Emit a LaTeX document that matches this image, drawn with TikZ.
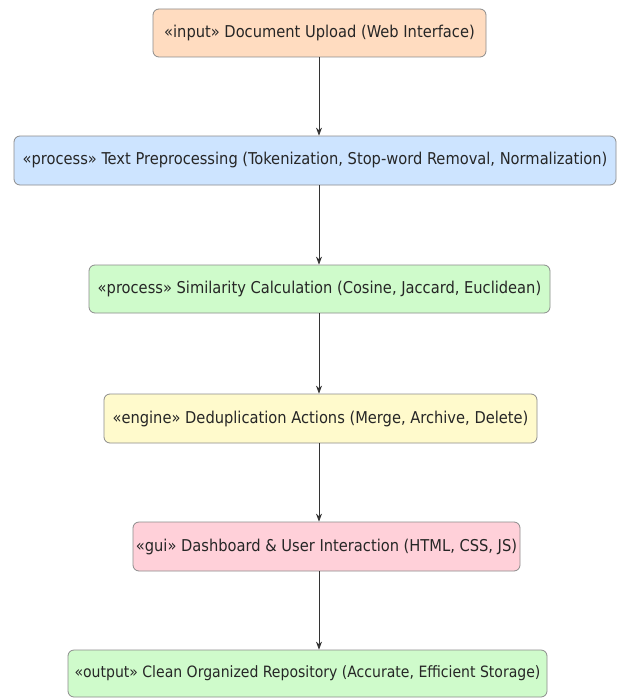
\documentclass[tikz,border=0pt]{standalone}
\usepackage{fontspec}
\setmainfont{DejaVu Sans Condensed}
\usetikzlibrary{arrows.meta}
\begin{document}
\begin{tikzpicture}[x=1pt,y=-1pt,
  box/.style={draw=black!45, line width=0.8pt, rounded corners=6pt, inner sep=0pt, font=\fontsize{16.3}{19}\selectfont, text=black!85},
  conn/.style={draw=black!80, line width=0.8pt, -{Stealth[length=8pt,width=6pt]}}]
\useasboundingbox[fill=white] (0,0) rectangle (617,698);
\definecolor{cpeach}{HTML}{FFDCC0}
\definecolor{cblue}{HTML}{CDE4FF}
\definecolor{cgreen}{HTML}{CFFBCB}
\definecolor{cyellow}{HTML}{FFFACC}
\definecolor{cpink}{HTML}{FFD0D9}
\node[box, fill=cpeach, minimum width=333pt, minimum height=48pt] (n1) at (319.5,33) {«input» Document Upload (Web Interface)};
\node[box, fill=cblue, minimum width=602pt, minimum height=49pt] (n2) at (315,160.5) {«process» Text Preprocessing (Tokenization, Stop-word Removal, Normalization)};
\node[box, fill=cgreen, minimum width=461pt, minimum height=48pt] (n3) at (319.5,289) {«process» Similarity Calculation (Cosine, Jaccard, Euclidean)};
\node[box, fill=cyellow, minimum width=433pt, minimum height=49pt] (n4) at (320.5,418.5) {«engine» Deduplication Actions (Merge, Archive, Delete)};
\node[box, fill=cpink, minimum width=387pt, minimum height=49pt] (n5) at (326.5,546.5) {«gui» Dashboard \& User Interaction (HTML, CSS, JS)};
\node[box, fill=cgreen, minimum width=479pt, minimum height=47pt, font=\fontsize{15.6}{18}\selectfont] (n6) at (307.5,673.5) {«output» Clean Organized Repository (Accurate, Efficient Storage)};
\coordinate (a1) at (319,57); \coordinate (b1) at (319,136);
\coordinate (a2) at (319,185); \coordinate (b2) at (319,265);
\coordinate (a3) at (319,313); \coordinate (b3) at (319,394);
\coordinate (a4) at (319,443); \coordinate (b4) at (319,522);
\coordinate (a5) at (319,571); \coordinate (b5) at (319,650);
\draw[conn] (n1.south -| a1) -- (n2.north -| b1);
\draw[conn] (n2.south -| a2) -- (n3.north -| b2);
\draw[conn] (n3.south -| a3) -- (n4.north -| b3);
\draw[conn] (n4.south -| a4) -- (n5.north -| b4);
\draw[conn] (n5.south -| a5) -- (n6.north -| b5);
\end{tikzpicture}
\end{document}
